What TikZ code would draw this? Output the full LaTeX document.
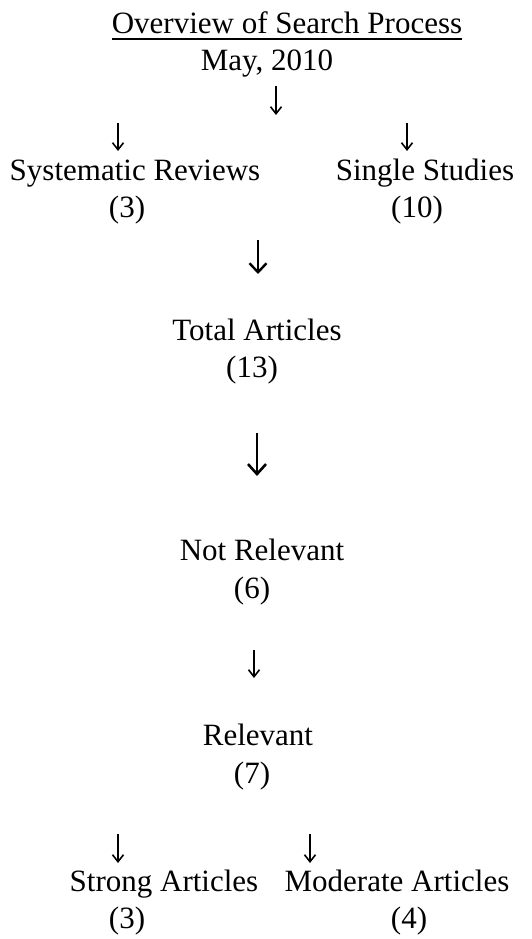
\documentclass[tikz,border=0pt]{standalone}
\usepackage{fontspec}
\setmainfont{Liberation Serif}
\usetikzlibrary{arrows.meta}
\begin{document}
\begin{tikzpicture}[x=1pt,y=-1pt,
  lbl/.style={inner sep=0pt,anchor=base,font=\fontsize{31}{37}\selectfont},
  sarr/.style={line width=1.3pt,-{Straight Barb[length=7pt,width=11pt,line width=1.6pt]}},
  marr/.style={line width=2pt,-{Straight Barb[length=9pt,width=17pt,line width=2.4pt]}},
  barr/.style={line width=2.2pt,-{Straight Barb[length=10pt,width=18pt,line width=2.6pt]}}]
\useasboundingbox (0,0) rectangle (532,939);
\node[lbl] (title) at (287,34) {Overview of Search Process};
\draw[line width=1.6pt] ([yshift=-5pt]title.base west) -- ([yshift=-5pt]title.base east);
\node[lbl] (may) at (267,71) {May, 2010};
\node[lbl] (sys) at (135,180) {Systematic Reviews};
\node[lbl] (sing) at (425,180) {Single Studies};
\node[lbl] (sysn) at (127,217) {(3)};
\node[lbl] (singn) at (417,217) {(10)};
\node[lbl] (tot) at (257,340) {Total Articles};
\node[lbl] (totn) at (252,377) {(13)};
\node[lbl] (notrel) at (262,560) {Not Relevant};
\node[lbl] (notreln) at (252,598) {(6)};
\node[lbl] (rel) at (258,745) {Relevant};
\node[lbl] (reln) at (252,783) {(7)};
\node[lbl] (strong) at (164,891) {Strong Articles};
\node[lbl] (mod) at (397,891) {Moderate Articles};
\node[lbl] (strongn) at (127,928) {(3)};
\node[lbl] (modn) at (409,928) {(4)};
% arrows
\coordinate (a1s) at (276,86);  \coordinate (a1e) at (276,115);
\coordinate (a2ls) at (118,123); \coordinate (a2le) at (118,151);
\coordinate (a2rs) at (407,123); \coordinate (a2re) at (407,151);
\coordinate (a3s) at (258,240); \coordinate (a3e) at (258,274);
\coordinate (a4s) at (257,433); \coordinate (a4e) at (257,476);
\coordinate (a5s) at (254,650); \coordinate (a5e) at (254,678);
\coordinate (a6ls) at (118,834); \coordinate (a6le) at (118,863);
\coordinate (a6rs) at (310,834); \coordinate (a6re) at (310,863);
\draw[sarr] (a1s) -- (a1e);
\draw[sarr] (a2ls) -- (a2le);
\draw[sarr] (a2rs) -- (a2re);
\draw[marr] (a3s) -- (a3e);
\draw[barr] (a4s) -- (a4e);
\draw[sarr] (a5s) -- (a5e);
\draw[sarr] (a6ls) -- (a6le);
\draw[sarr] (a6rs) -- (a6re);
\end{tikzpicture}
\end{document}
